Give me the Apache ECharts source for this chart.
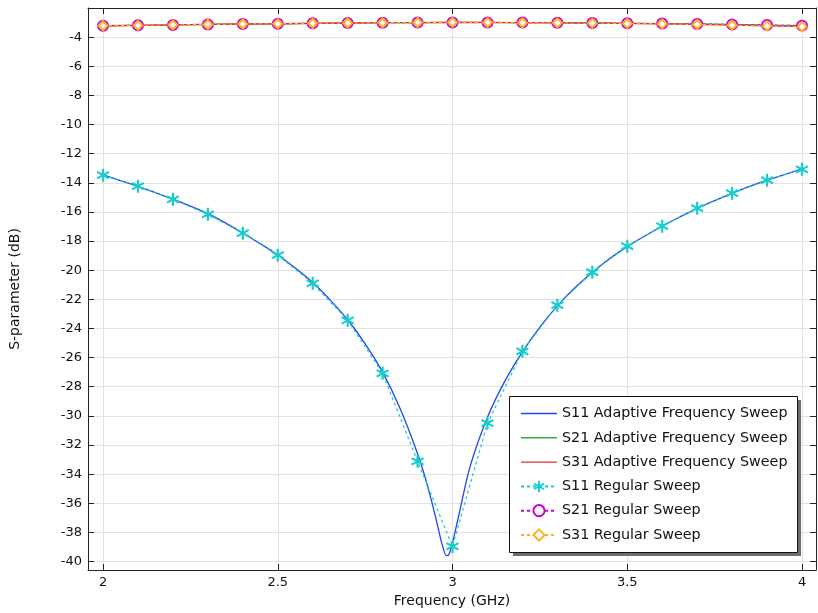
<!DOCTYPE html>
<html>
<head>
<meta charset="utf-8">
<script src="https://cdn.jsdelivr.net/npm/echarts@6/dist/echarts.min.js"></script>
<style>html,body{margin:0;padding:0;background:#fff}#c{width:818px;height:613px}</style>
</head>
<body>
<div id="c"></div>
<script>
// ---- data ----
const xTicks = [2, 2.5, 3, 3.5, 4];
const yTicks = [-40, -38, -36, -34, -32, -30, -28, -26, -24, -22, -20, -18, -16, -14, -12, -10, -8, -6, -4];

const freqRegular = [2.0, 2.1, 2.2, 2.3, 2.4, 2.5, 2.6, 2.7, 2.8, 2.9, 3.0, 3.1, 3.2, 3.3, 3.4, 3.5, 3.6, 3.7, 3.8, 3.9, 4.0];
const s11Regular = [-13.48, -14.23, -15.13, -16.16, -17.46, -18.97, -20.9, -23.44, -27.08, -33.12, -38.96, -30.5, -25.57, -22.4, -20.14, -18.35, -16.98, -15.74, -14.71, -13.82, -13.07];
const s21Regular = [-3.22, -3.19, -3.16, -3.13, -3.10, -3.08, -3.05, -3.03, -3.01, -3.00, -2.99, -2.99, -3.00, -3.01, -3.03, -3.05, -3.07, -3.10, -3.13, -3.17, -3.21];
const s31Regular = [-3.22, -3.19, -3.16, -3.13, -3.10, -3.08, -3.05, -3.03, -3.01, -3.00, -2.99, -3.00, -3.01, -3.02, -3.04, -3.06, -3.09, -3.13, -3.18, -3.23, -3.28];

const freqAdaptS11 = [2.0, 2.05, 2.1, 2.15, 2.2, 2.25, 2.3, 2.35, 2.4, 2.45, 2.5, 2.55, 2.6, 2.65, 2.7, 2.75, 2.8, 2.85, 2.9, 2.925, 2.95, 2.97, 2.983, 2.99, 3.0, 3.02, 3.05, 3.1, 3.15, 3.2, 3.25, 3.3, 3.35, 3.4, 3.45, 3.5, 3.55, 3.6, 3.65, 3.7, 3.75, 3.8, 3.85, 3.9, 3.95, 4.0];
const s11Adaptive = [-13.45, -13.85, -14.25, -14.68, -15.12, -15.6, -16.12, -16.75, -17.45, -18.18, -18.95, -19.85, -20.85, -22.05, -23.4, -25.05, -27.0, -29.5, -32.6, -34.5, -36.8, -38.8, -39.6, -39.5, -38.7, -36.6, -33.5, -30.1, -27.6, -25.6, -23.9, -22.45, -21.2, -20.15, -19.2, -18.38, -17.65, -16.98, -16.35, -15.75, -15.22, -14.72, -14.25, -13.82, -13.43, -13.05];

const freqAdapt = [2.0, 2.1, 2.2, 2.3, 2.4, 2.5, 2.6, 2.7, 2.8, 2.9, 3.0, 3.1, 3.2, 3.3, 3.4, 3.5, 3.6, 3.7, 3.8, 3.9, 4.0];
const s21Adaptive = [-3.22, -3.19, -3.16, -3.13, -3.10, -3.08, -3.05, -3.03, -3.01, -3.00, -2.99, -2.99, -3.00, -3.01, -3.03, -3.05, -3.07, -3.10, -3.13, -3.17, -3.21];
const s31Adaptive = [-3.22, -3.19, -3.16, -3.13, -3.10, -3.08, -3.05, -3.03, -3.01, -3.00, -2.99, -3.00, -3.01, -3.02, -3.04, -3.06, -3.09, -3.13, -3.18, -3.23, -3.28];

const seriesNames = ['S11 Adaptive Frequency Sweep', 'S21 Adaptive Frequency Sweep', 'S31 Adaptive Frequency Sweep', 'S11 Regular Sweep', 'S21 Regular Sweep', 'S31 Regular Sweep'];

// ---- chart ----
const zip = (xs, ys) => xs.map((x, i) => [x, ys[i]]);
const FONT = '"DejaVu Sans", Verdana, sans-serif';
const starPath = 'path://M-1.1,-7L1.1,-7L1.1,7L-1.1,7Z M5.51,-4.45L6.61,-2.55L-5.51,4.45L-6.61,2.55Z M-6.61,-2.55L-5.51,-4.45L6.61,2.55L5.51,4.45Z';
const lineIcon = 'path://M0,0L34,0L34,1.3L0,1.3Z';

const chart = echarts.init(document.getElementById('c'), null, {renderer: 'canvas'});

const tickCommon = {show: true, inside: true, length: 6, lineStyle: {color: '#222', width: 1}};
const axisLineCommon = {show: true, onZero: false, lineStyle: {color: '#222', width: 1}};

chart.setOption({
  backgroundColor: '#fff',
  animation: false,
  grid: {left: 88, top: 8, right: 2, bottom: 43, containLabel: false},
  xAxis: [
    {
      type: 'value', position: 'bottom', min: 1.957, max: 4.04,
      name: 'Frequency (GHz)', nameLocation: 'middle', nameGap: 23,
      nameTextStyle: {fontFamily: FONT, fontSize: 14, color: '#111'},
      axisLine: axisLineCommon,
      axisTick: Object.assign({customValues: xTicks}, tickCommon),
      axisLabel: {customValues: xTicks, fontFamily: FONT, fontSize: 13, color: '#111', margin: 6,
        formatter: v => String(v)},
      splitLine: {show: true, lineStyle: {color: '#e2e2e2', width: 1}}
    },
    {
      type: 'value', position: 'top', min: 1.957, max: 4.04,
      axisLine: axisLineCommon,
      axisTick: Object.assign({customValues: xTicks}, tickCommon),
      axisLabel: {show: false},
      splitLine: {show: false}
    }
  ],
  yAxis: [
    {
      type: 'value', position: 'left', min: -40.58, max: -2.0,
      name: 'S-parameter (dB)', nameLocation: 'middle', nameGap: 66,
      nameTextStyle: {fontFamily: FONT, fontSize: 14, color: '#111'},
      axisLine: axisLineCommon,
      axisTick: Object.assign({customValues: yTicks}, tickCommon),
      axisLabel: {customValues: yTicks, fontFamily: FONT, fontSize: 13, color: '#111', margin: 6,
        formatter: v => String(v)},
      splitLine: {show: true, lineStyle: {color: '#e2e2e2', width: 1}}
    },
    {
      type: 'value', position: 'right', min: -40.58, max: -2.0,
      axisLine: axisLineCommon,
      axisTick: Object.assign({customValues: yTicks}, tickCommon),
      axisLabel: {show: false},
      splitLine: {show: false}
    }
  ],
  graphic: [
    {type: 'rect', z: 5, shape: {x: 513, y: 400, width: 288, height: 156}, style: {fill: '#6e6e6e'}},
    {type: 'rect', z: 5, shape: {x: 509.5, y: 396.5, width: 288, height: 156}, style: {fill: '#fff', stroke: '#111', lineWidth: 1}}
  ],
  legend: {
    orient: 'vertical', left: 520, top: 406.5, z: 6,
    padding: 0, itemGap: 10.3, itemWidth: 36, itemHeight: 14,
    textStyle: {fontFamily: FONT, fontSize: 14.3, color: '#111'},
    data: [
      {name: seriesNames[0], icon: lineIcon},
      {name: seriesNames[1], icon: lineIcon},
      {name: seriesNames[2], icon: lineIcon},
      {name: seriesNames[3]},
      {name: seriesNames[4]},
      {name: seriesNames[5]}
    ]
  },
  series: [
    {name: seriesNames[0], type: 'line', data: zip(freqAdaptS11, s11Adaptive), symbol: 'none', smooth: 0.3,
      lineStyle: {color: '#2244ee', width: 1.3}, itemStyle: {color: '#2244ee'}, z: 3},
    {name: seriesNames[1], type: 'line', data: zip(freqAdapt, s21Adaptive), symbol: 'none',
      lineStyle: {color: '#33aa44', width: 1.3}, itemStyle: {color: '#33aa44'}, z: 3},
    {name: seriesNames[2], type: 'line', data: zip(freqAdapt, s31Adaptive), symbol: 'none',
      lineStyle: {color: '#e03030', width: 1.3}, itemStyle: {color: '#e03030'}, z: 3},
    {name: seriesNames[3], type: 'line', data: zip(freqRegular, s11Regular), symbol: starPath, symbolSize: 13,
      lineStyle: {color: '#18cccc', width: 1.2, type: [3, 3]}, itemStyle: {color: '#18cccc'}, z: 3},
    {name: seriesNames[4], type: 'line', data: zip(freqRegular, s21Regular), symbol: 'emptyCircle', symbolSize: 10,
      lineStyle: {color: '#cc00cc', width: 1.2, type: [3, 3]}, itemStyle: {color: '#cc00cc', borderWidth: 1.6}, z: 3},
    {name: seriesNames[5], type: 'line', data: zip(freqRegular, s31Regular), symbol: 'emptyDiamond', symbolSize: 9,
      lineStyle: {color: '#ffb020', width: 1.2, type: [3, 3]}, itemStyle: {color: '#ffb020', borderWidth: 1.4}, z: 3}
  ]
});
</script>
</body>
</html>
